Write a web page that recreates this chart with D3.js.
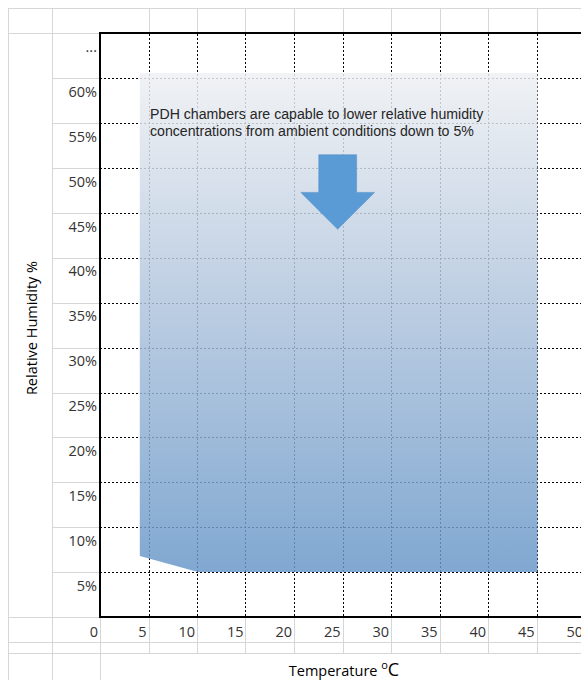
<!DOCTYPE html>
<html>
<head>
<meta charset="utf-8">
<script src="https://cdn.jsdelivr.net/npm/d3@7"></script>
<style>
  body { margin: 0; background: #fff; }
  svg { display: block; }
</style>
</head>
<body>
<div id="chart"></div>
<script>
// axis values
const tempTicks = [0, 5, 10, 15, 20, 25, 30, 35, 40, 45, 50]
const rhTicks = [5, 10, 15, 20, 25, 30, 35, 40, 45, 50, 55, 60, 65]
const rhTickLabels = ["5%", "10%", "15%", "20%", "25%", "30%", "35%", "40%", "45%", "50%", "55%", "60%", "..."]

// operating region of the chambers (temperature °C, relative humidity %)
const regionTemp = [4, 45, 45, 10, 4]
const regionRH = [60.6, 60.6, 5, 5, 6.8]

const note = ["PDH chambers are capable to lower relative humidity",
              "concentrations from ambient conditions down to 5%"]

const W = 581, H = 680
const sheetLine = "#d6d6d6"

let svg = d3.select("#chart").append("svg")
    .attr("width", W)
    .attr("height", H)

let x = d3.scaleLinear().domain([0, 50]).range([101, 586])
let y = d3.scaleLinear().domain([0, 65]).range([617, 33.5])

// spreadsheet cells behind the chart
let sheet = svg.append("g").attr("stroke", sheetLine).attr("stroke-width", 1).attr("shape-rendering", "crispEdges")
sheet.append("line").attr("x1", 8).attr("x2", W).attr("y1", 8.5).attr("y2", 8.5)
sheet.append("line").attr("x1", 8).attr("x2", 100).attr("y1", 33.5).attr("y2", 33.5)
sheet.append("line").attr("x1", 8.5).attr("x2", 8.5).attr("y1", 8).attr("y2", H)
sheet.append("line").attr("x1", 52.5).attr("x2", 52.5).attr("y1", 8).attr("y2", H)
sheet.append("line").attr("x1", 100.5).attr("x2", 100.5).attr("y1", 617).attr("y2", H)
sheet.append("line").attr("x1", 8).attr("x2", 100).attr("y1", 617.5).attr("y2", 617.5)
sheet.selectAll(".rowB").data(rhTicks.slice(0, -1))
    .enter().append("line")
    .attr("x1", 52).attr("x2", 100)
    .attr("y1", d => Math.round(y(d)) + 0.5)
    .attr("y2", d => Math.round(y(d)) + 0.5)
sheet.selectAll(".rowBottom").data([642, 653])
    .enter().append("line")
    .attr("x1", 8).attr("x2", W)
    .attr("y1", d => d + 0.5).attr("y2", d => d + 0.5)
sheet.selectAll(".colTop").data(tempTicks.slice(1))
    .enter().append("line")
    .attr("x1", d => Math.round(x(d)) - 0.5).attr("x2", d => Math.round(x(d)) - 0.5)
    .attr("y1", 8).attr("y2", 33)
sheet.selectAll(".colBottom").data(tempTicks.slice(1))
    .enter().append("line")
    .attr("x1", d => Math.round(x(d)) - 0.5).attr("x2", d => Math.round(x(d)) - 0.5)
    .attr("y1", 617).attr("y2", 653)

// plot area
svg.append("rect")
    .attr("x", 100).attr("y", 33)
    .attr("width", W).attr("height", 584)
    .attr("fill", "#fff")

let grid = svg.append("g").attr("stroke", "#000").attr("stroke-width", 1)
    .attr("stroke-dasharray", "2,2").attr("shape-rendering", "crispEdges")
grid.selectAll(".h").data(rhTicks.slice(0, -1))
    .enter().append("line")
    .attr("x1", 100).attr("x2", W)
    .attr("y1", d => Math.round(y(d)) + 0.5)
    .attr("y2", d => Math.round(y(d)) + 0.5)
grid.selectAll(".v").data(tempTicks.slice(1))
    .enter().append("line")
    .attr("x1", d => Math.round(x(d)) - 0.5)
    .attr("x2", d => Math.round(x(d)) - 0.5)
    .attr("y1", 34).attr("y2", 617)

// gradient region
let defs = svg.append("defs")
let grad = defs.append("linearGradient")
    .attr("id", "regionFill")
    .attr("x1", 0).attr("y1", 0).attr("x2", 0).attr("y2", 1)
grad.append("stop").attr("offset", "0%").attr("stop-color", "#eef0f3")
grad.append("stop").attr("offset", "45%").attr("stop-color", "#b1c5dd")
grad.append("stop").attr("offset", "100%").attr("stop-color", "#6897c8")

let region = regionTemp.map((t, i) => [t, regionRH[i]])
let regionLine = d3.line().x(d => x(d[0])).y(d => y(d[1]))
svg.append("path")
    .attr("d", regionLine(region) + "Z")
    .attr("fill", "url(#regionFill)")
    .attr("fill-opacity", 0.84)

// axes frame
let axes = svg.append("g").attr("stroke", "#000").attr("stroke-width", 2).attr("fill", "none")
axes.append("line").attr("x1", 100).attr("x2", W).attr("y1", 33).attr("y2", 33)
axes.append("line").attr("x1", 100).attr("x2", W).attr("y1", 617).attr("y2", 617)
axes.append("line").attr("x1", 100).attr("x2", 100).attr("y1", 32).attr("y2", 618)

// tick labels
let tickFont = "'Open Sans', sans-serif"
svg.append("g").selectAll("text").data(rhTicks)
    .enter().append("text")
    .attr("x", 97)
    .attr("y", d => y(d) + 18.5)
    .attr("text-anchor", "end")
    .attr("font-family", tickFont)
    .attr("font-size", 14.5)
    .attr("fill", "#333")
    .text((d, i) => rhTickLabels[i])

svg.append("g").selectAll("text").data(tempTicks)
    .enter().append("text")
    .attr("x", d => x(d) - 3)
    .attr("y", 637)
    .attr("text-anchor", "end")
    .attr("font-family", tickFont)
    .attr("font-size", 14.5)
    .attr("fill", "#333")
    .text(d => d)

// axis titles
svg.append("text")
    .attr("transform", "translate(37,328) rotate(-90)")
    .attr("text-anchor", "middle")
    .attr("font-family", tickFont)
    .attr("font-size", 14.5)
    .attr("fill", "#000")
    .text("Relative Humidity %")

let xTitle = svg.append("text")
    .attr("x", 344)
    .attr("y", 676)
    .attr("text-anchor", "middle")
    .attr("font-family", tickFont)
    .attr("font-size", 14.5)
    .attr("fill", "#000")
xTitle.append("tspan").text("Temperature ")
xTitle.append("tspan").attr("font-size", 11).attr("dy", -7).text("o")
xTitle.append("tspan").attr("font-size", 18).attr("dy", 7).text("C")

// annotation
svg.append("g").selectAll("text").data(note)
    .enter().append("text")
    .attr("x", 150)
    .attr("y", (d, i) => 119 + i * 17)
    .attr("font-family", "'Liberation Sans', Arial, sans-serif")
    .attr("font-size", 14.15)
    .attr("fill", "#262626")
    .text(d => d)

// down arrow, in data units
const arrowAt = { t: 24.4, shaft: 1.95, head: 3.8, top: 51.5, neck: 47.3, tip: 43.2 }
let arrowPts = [
    [arrowAt.t - arrowAt.shaft, arrowAt.top],
    [arrowAt.t + arrowAt.shaft, arrowAt.top],
    [arrowAt.t + arrowAt.shaft, arrowAt.neck],
    [arrowAt.t + arrowAt.head, arrowAt.neck],
    [arrowAt.t, arrowAt.tip],
    [arrowAt.t - arrowAt.head, arrowAt.neck],
    [arrowAt.t - arrowAt.shaft, arrowAt.neck]
]
svg.append("path")
    .attr("d", regionLine(arrowPts) + "Z")
    .attr("fill", "#5b9bd5")
    .attr("stroke", "#4f8cc4")
    .attr("stroke-width", 0.5)
</script>
</body>
</html>
